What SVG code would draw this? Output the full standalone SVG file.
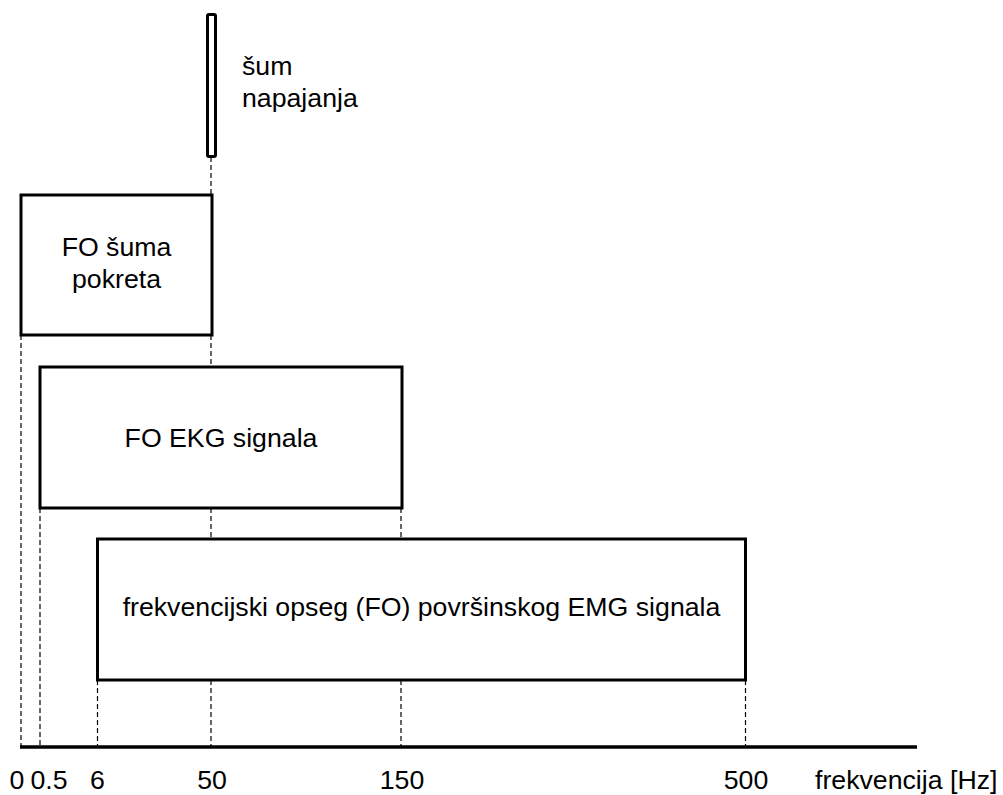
<svg xmlns="http://www.w3.org/2000/svg" width="1003" height="795" viewBox="0 0 1003 795">
<style>
.box{fill:#fff;stroke:#000;stroke-width:3}
.dash{stroke:#000;stroke-width:1.2;stroke-dasharray:5 3;fill:none}
text{font-family:"Liberation Sans",Arial,sans-serif;font-size:26.7px;fill:#000}
.c{text-anchor:middle}
</style>
<rect width="1003" height="795" fill="#fff"/>
<g id="connectors">
<line class="dash" x1="211" y1="157" x2="211" y2="195"/>
<line class="dash" x1="211" y1="335" x2="211" y2="367"/>
<line class="dash" x1="211" y1="508" x2="211" y2="539"/>
<line class="dash" x1="211" y1="680" x2="211" y2="747"/>
<line class="dash" x1="21" y1="335" x2="21" y2="747"/>
<line class="dash" x1="40" y1="508" x2="40" y2="747"/>
<line class="dash" x1="97.5" y1="680" x2="97.5" y2="747"/>
<line class="dash" x1="401" y1="508" x2="401" y2="539"/>
<line class="dash" x1="401" y1="680" x2="401" y2="747"/>
<line class="dash" x1="745.5" y1="680" x2="745.5" y2="747"/>
</g>
<g id="axis">
<line x1="20" y1="747" x2="917" y2="747" stroke="#000" stroke-width="3.5"/>
<text class="c" x="17" y="789">0</text>
<text class="c" x="49" y="789">0.5</text>
<text class="c" x="97.5" y="789">6</text>
<text class="c" x="212" y="789">50</text>
<text class="c" x="402" y="789">150</text>
<text class="c" x="746" y="789">500</text>
<text x="815" y="789">frekvencija [Hz]</text>
</g>
<g id="sum-napajanja">
<rect class="box" x="207.5" y="14.5" width="8" height="142" rx="1.5"/>
<text x="242" y="75">šum</text>
<text x="242" y="107">napajanja</text>
</g>
<g id="fo-suma-pokreta">
<rect class="box" x="21" y="195" width="191" height="140"/>
<text class="c" x="116.5" y="256">FO šuma</text>
<text class="c" x="116.5" y="288">pokreta</text>
</g>
<g id="fo-ekg">
<rect class="box" x="40" y="367" width="362" height="141"/>
<text class="c" x="221" y="447">FO EKG signala</text>
</g>
<g id="fo-emg">
<rect class="box" x="97.5" y="539" width="648" height="141"/>
<text class="c" x="421.5" y="616">frekvencijski opseg (FO) površinskog EMG signala</text>
</g>
</svg>
